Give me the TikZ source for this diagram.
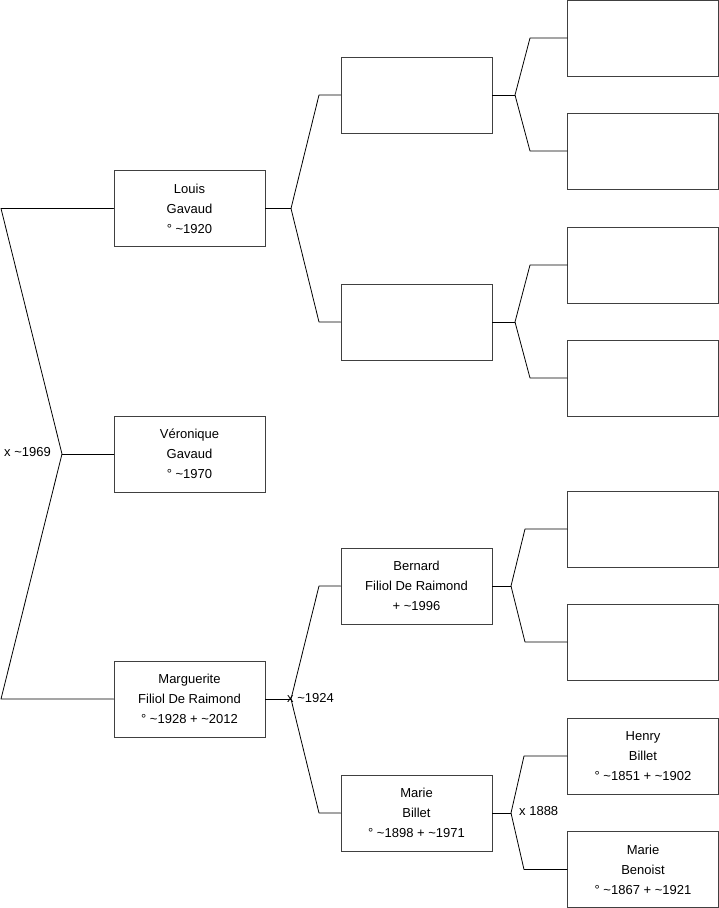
\documentclass[tikz,border=0pt]{standalone}
\usepackage{fontspec}
\setmainfont{Liberation Sans}

\begin{document}
\begin{tikzpicture}[x=1pt,y=-1pt]
\tikzset{
  treenode/.style={rectangle,draw=black!75,line width=0.8pt,minimum width=151pt,minimum height=76pt,inner sep=0pt,align=center,font=\fontsize{13}{20}\selectfont},
  treeedge/.style={draw=black,line width=0.8pt,line cap=round,line join=round},
  unionlabel/.style={inner sep=0pt,font=\fontsize{13}{20}\selectfont}
}
\useasboundingbox (0,0) rectangle (719,908);
% generation 1
\node[treenode] (n_louis) at (189.5,208.5) {Louis\\Gavaud\\° \textasciitilde1920};
\node[treenode] (n_veronique) at (189.5,454) {Véronique\\Gavaud\\° \textasciitilde1970};
\node[treenode] (n_marguerite) at (189.5,699) {Marguerite\\Filiol De Raimond\\° \textasciitilde1928 + \textasciitilde2012};
% generation 2
\node[treenode] (n_p1) at (416.5,95) {};
\node[treenode] (n_p2) at (416.5,322) {};
\node[treenode] (n_bernard) at (416.5,586) {Bernard\\Filiol De Raimond\\+ \textasciitilde1996};
\node[treenode] (n_marie) at (416.5,813) {Marie\\Billet\\° \textasciitilde1898 + \textasciitilde1971};
% generation 3
\node[treenode] (n_q1) at (643,38) {};
\node[treenode] (n_q2) at (643,151) {};
\node[treenode] (n_q3) at (643,265) {};
\node[treenode] (n_q4) at (643,378) {};
\node[treenode] (n_q5) at (643,529) {};
\node[treenode] (n_q6) at (643,642) {};
\node[treenode] (n_henry) at (643,756) {Henry\\Billet\\° \textasciitilde1851 + \textasciitilde1902};
\node[treenode] (n_benoist) at (643,869.5) {Marie\\Benoist\\° \textasciitilde1867 + \textasciitilde1921};
% junctions
\coordinate (j_root) at (62,454);
\coordinate (j_louis) at (291,208.5);
\coordinate (j_marguerite) at (291,699);
\coordinate (j_p1) at (515,95);
\coordinate (j_p2) at (515,322);
\coordinate (j_bernard) at (511,586);
\coordinate (j_marie) at (511,813);
% connectors
\draw[treeedge] (n_louis) -- (1,208.5) -- (j_root) -- (1,699) -- (n_marguerite);
\draw[treeedge] (j_root) -- (n_veronique);
\draw[treeedge] (n_louis) -- (j_louis);
\draw[treeedge] (n_p1) -- (319,95) -- (j_louis) -- (319,322) -- (n_p2);
\draw[treeedge] (n_marguerite) -- (j_marguerite);
\draw[treeedge] (n_bernard) -- (319,586) -- (j_marguerite) -- (319,813) -- (n_marie);
\draw[treeedge] (n_p1) -- (j_p1);
\draw[treeedge] (n_q1) -- (530,38) -- (j_p1) -- (530,151) -- (n_q2);
\draw[treeedge] (n_p2) -- (j_p2);
\draw[treeedge] (n_q3) -- (530,265) -- (j_p2) -- (530,378) -- (n_q4);
\draw[treeedge] (n_bernard) -- (j_bernard);
\draw[treeedge] (n_q5) -- (525,529) -- (j_bernard) -- (525,642) -- (n_q6);
\draw[treeedge] (n_marie) -- (j_marie);
\draw[treeedge] (n_henry) -- (524,756) -- (j_marie) -- (524,869.5) -- (n_benoist);
% union labels
\node[unionlabel,anchor=east] (l_root) at (51,452) {x \textasciitilde1969};
\node[unionlabel,anchor=west] (l_marguerite) at (287,698) {x \textasciitilde1924};
\node[unionlabel,anchor=west] (l_marie) at (519,811) {x 1888};
\end{tikzpicture}
\end{document}
